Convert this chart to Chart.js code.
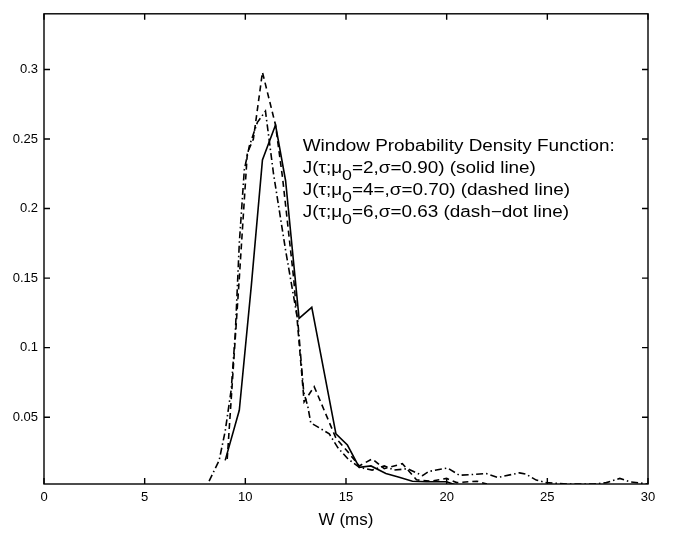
<!DOCTYPE html>
<html>
<head>
<meta charset="utf-8">
<script src="https://cdn.jsdelivr.net/npm/chart.js@4/dist/chart.umd.min.js"></script>
<style>
  html, body { margin: 0; padding: 0; background: #fff; }
  #wrap { width: 675px; height: 535px; }
</style>
</head>
<body>
<div id="wrap"><canvas id="c" width="675" height="535"></canvas></div>
<script>
// W (ms) vs density
const solidX = [9.0, 9.7, 10.3, 10.85, 11.5, 12.0, 12.67, 13.3, 14.5, 15.07, 15.66, 16.24, 16.98, 17.6, 18.3, 19.0, 20.0, 20.5]
const solidY = [0.019, 0.055, 0.145, 0.235, 0.26, 0.22, 0.121, 0.129, 0.038, 0.03, 0.014, 0.015, 0.0095, 0.007, 0.004, 0.0036, 0.0036, 0.001]

const dashedX = [9.1, 9.7, 10.1, 10.4, 10.85, 11.5, 11.85, 12.4, 12.92, 13.42, 14.5, 15.1, 15.66, 16.3, 16.9, 17.8, 18.5, 19.2, 20.0, 20.5, 21.5, 22.0]
const dashedY = [0.02, 0.15, 0.24, 0.25, 0.298, 0.26, 0.222, 0.15, 0.061, 0.072, 0.035, 0.025, 0.015, 0.02, 0.013, 0.0166, 0.005, 0.004, 0.006, 0.003, 0.004, 0.002]

const dashDotX = [8.2, 8.7, 9.0, 9.3, 9.5, 9.7, 9.95, 10.2, 10.6, 11.0, 11.4, 12.0, 12.6, 12.9, 13.1, 13.25, 13.83, 14.17, 14.6, 15.1, 15.66, 16.3, 16.9, 17.4, 18.06, 18.8, 19.1, 20.05, 20.63, 21.46, 21.96, 22.54, 23.62, 23.95, 24.45, 24.95, 26.0, 27.3, 27.93, 28.6, 29.1, 30.0]
const dashDotY = [0.004, 0.019, 0.04, 0.07, 0.11, 0.175, 0.228, 0.245, 0.262, 0.27, 0.225, 0.17, 0.12, 0.068, 0.058, 0.046, 0.041, 0.038, 0.028, 0.02, 0.014, 0.012, 0.015, 0.012, 0.013, 0.008, 0.011, 0.0135, 0.0083, 0.009, 0.0095, 0.0067, 0.010, 0.009, 0.0048, 0.003, 0.002, 0.002, 0.003, 0.006, 0.0036, 0.002]

const xTicks = [0, 5, 10, 15, 20, 25, 30]
const yTicks = [0.05, 0.1, 0.15, 0.2, 0.25, 0.3]

const noteLines = [
  ['Window Probability Density Function:'],
  ['J(\u03c4;\u03bc', '0', '=2,\u03c3=0.90) (solid line)'],
  ['J(\u03c4;\u03bc', '0', '=4=,\u03c3=0.70) (dashed line)'],
  ['J(\u03c4;\u03bc', '0', '=6,\u03c3=0.63 (dash\u2212dot line)']
]

const FONT = '"Liberation Sans", Arial, Helvetica, sans-serif'

const pts = (xs, ys) => xs.map((x, i) => ({ x, y: ys[i] }))

// box, inward ticks and the note text
const frame = {
  id: 'frame',
  afterDraw(chart) {
    const { ctx, chartArea: a, scales: { x, y } } = chart
    ctx.save()
    ctx.strokeStyle = '#000'
    ctx.lineWidth = 1.4
    ctx.strokeRect(a.left, a.top, a.right - a.left, a.bottom - a.top)
    ctx.beginPath()
    xTicks.forEach(v => {
      const px = x.getPixelForValue(v)
      ctx.moveTo(px, a.bottom); ctx.lineTo(px, a.bottom - 6)
      ctx.moveTo(px, a.top); ctx.lineTo(px, a.top + 6)
    })
    yTicks.forEach(v => {
      const py = y.getPixelForValue(v)
      ctx.moveTo(a.left, py); ctx.lineTo(a.left + 6, py)
      ctx.moveTo(a.right, py); ctx.lineTo(a.right - 6, py)
    })
    ctx.stroke()

    // note
    ctx.fillStyle = '#000'
    ctx.textBaseline = 'alphabetic'
    ctx.font = '16px ' + FONT
    const stretch = 312 / ctx.measureText(noteLines[0][0]).width
    const left = x.getPixelForValue(12.85)
    let base = 150.5
    noteLines.forEach(parts => {
      ctx.save()
      ctx.translate(left, base)
      ctx.scale(stretch, 1)
      let cx = 0
      parts.forEach((p, i) => {
        if (i === 1) {
          ctx.font = '15px ' + FONT
          ctx.fillText(p, cx, 7)
        } else {
          ctx.font = '16px ' + FONT
          ctx.fillText(p, cx, 0)
        }
        cx += ctx.measureText(p).width
      })
      ctx.restore()
      base += 22
    })
    ctx.restore()
  }
}

const common = { borderColor: '#000', borderWidth: 1.6, pointRadius: 0, tension: 0, fill: false }

new Chart(document.getElementById('c'), {
  type: 'line',
  data: {
    datasets: [
      { ...common, label: 'solid', data: pts(solidX, solidY) },
      { ...common, label: 'dashed', data: pts(dashedX, dashedY), borderDash: [6, 4] },
      { ...common, label: 'dash-dot', data: pts(dashDotX, dashDotY), borderDash: [7, 3, 1.5, 3] }
    ]
  },
  options: {
    responsive: false,
    animation: false,
    layout: { padding: { top: 6, right: 27, left: 0, bottom: 0 } },
    plugins: { legend: { display: false }, tooltip: { enabled: false } },
    scales: {
      x: {
        type: 'linear',
        min: 0, max: 30,
        grid: { display: false, drawTicks: false },
        border: { display: false },
        afterBuildTicks: s => { s.ticks = xTicks.map(v => ({ value: v })) },
        afterFit: s => { s.height = 51 },
        ticks: { padding: 6, color: '#000', font: { family: FONT, size: 13 } },
        title: { display: true, text: 'W (ms)', color: '#000', padding: { top: 0, bottom: 4 }, font: { family: FONT, size: 17 } }
      },
      y: {
        min: 0.002, max: 0.34,
        grid: { display: false, drawTicks: false },
        border: { display: false },
        afterBuildTicks: s => { s.ticks = yTicks.map(v => ({ value: v })) },
        afterFit: s => { s.width = 44 },
        ticks: { padding: 6, color: '#000', font: { family: FONT, size: 13 }, callback: v => String(+v.toFixed(2)) }
      }
    }
  },
  plugins: [frame]
})
</script>
</body>
</html>
